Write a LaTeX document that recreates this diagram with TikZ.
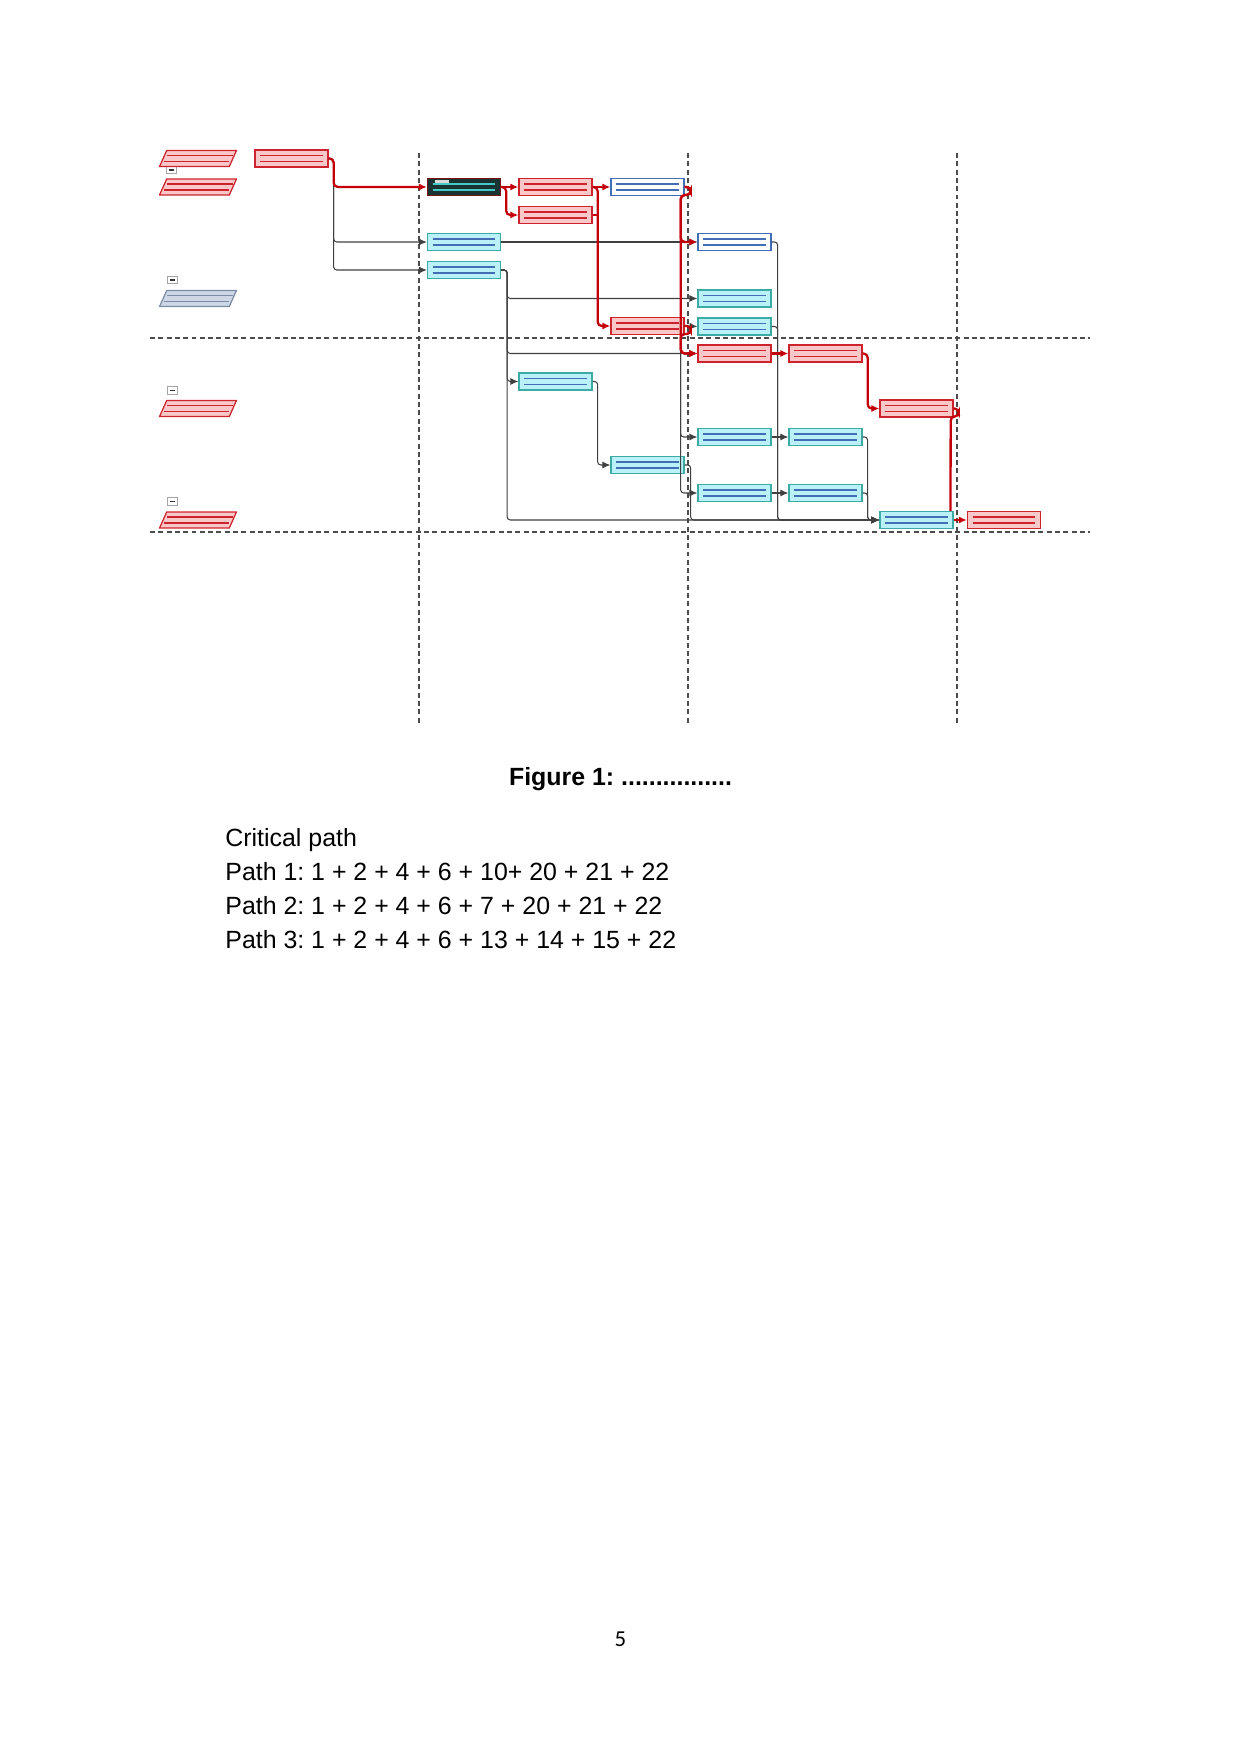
\documentclass[tikz,border=0pt]{standalone}
\usepackage{fontspec}
\setmainfont{Liberation Sans}
\newfontfamily\pagenofont{Carlito}
\usepackage{xcolor}
\usetikzlibrary{arrows.meta}
\frenchspacing

\definecolor{critfill}{RGB}{250,200,200}
\definecolor{critline}{RGB}{205,35,45}
\definecolor{critpath}{RGB}{195,0,10}
\definecolor{cyanfill}{RGB}{186,240,248}
\definecolor{cyanline}{RGB}{60,170,165}
\definecolor{ruleblue}{RGB}{65,110,180}
\definecolor{darkfill}{RGB}{25,50,50}
\definecolor{darkedge}{RGB}{120,20,20}
\definecolor{darkrule}{RGB}{70,200,200}
\definecolor{grpfill}{RGB}{205,215,230}
\definecolor{grpline}{RGB}{125,140,165}

\tikzset{
    >={Latex[length=3.8pt, width=3.4pt]}, % small filled arrow heads
    taskbox/.style 2 args={rectangle, draw=#1, fill=#2, line width=0.6pt,
        minimum width=35.2pt, minimum height=8.2pt, inner sep=0pt},
    rules/.style={path picture={
        \draw[#1, line width=0.7pt]
            ([xshift=2.5pt, yshift=-2.7pt]path picture bounding box.north west) --
            ([xshift=-2.5pt, yshift=-2.7pt]path picture bounding box.north east)
            ([xshift=2.5pt, yshift=2.7pt]path picture bounding box.south west) --
            ([xshift=-2.5pt, yshift=2.7pt]path picture bounding box.south east);
    }},
    crit/.style={taskbox={critline}{critfill}, rules=critline},
    norm/.style={taskbox={cyanline}{cyanfill}, rules=ruleblue},
    mile/.style={taskbox={ruleblue}{white}, rules=ruleblue},
    current/.style={taskbox={darkedge}{darkfill}, path picture={
        \fill[white!85!black] ([xshift=3.5pt, yshift=-0.8pt]path picture bounding box.north west) rectangle ++(7pt,-1.2pt);
        \draw[darkrule, line width=0.7pt]
            ([xshift=2.5pt, yshift=-2.7pt]path picture bounding box.north west) --
            ([xshift=-2.5pt, yshift=-2.7pt]path picture bounding box.north east)
            ([xshift=2.5pt, yshift=2.7pt]path picture bounding box.south west) --
            ([xshift=-2.5pt, yshift=2.7pt]path picture bounding box.south east);
    }},
    group/.style 2 args={rectangle, minimum width=37.6pt, minimum height=8.2pt, inner sep=0pt,
        path picture={
        \path[draw=#1, fill=#2, line width=0.6pt]
            ([xshift=0.3pt, yshift=0.3pt]path picture bounding box.south west) --
            ([xshift=-3.7pt, yshift=0.3pt]path picture bounding box.south east) --
            ([xshift=-0.3pt, yshift=-0.3pt]path picture bounding box.north east) --
            ([xshift=3.7pt, yshift=-0.3pt]path picture bounding box.north west) -- cycle;
        \draw[#1, line width=0.7pt]
            ([xshift=4pt, yshift=-2.7pt]path picture bounding box.north west) --
            ([xshift=-2pt, yshift=-2.7pt]path picture bounding box.north east)
            ([xshift=2.5pt, yshift=2.7pt]path picture bounding box.south west) --
            ([xshift=-4pt, yshift=2.7pt]path picture bounding box.south east);
    }},
    fold/.style={rectangle, draw=black!35, fill=white, line width=0.3pt,
        minimum width=4.6pt, minimum height=3.6pt, inner sep=0pt,
        path picture={\draw[black!80, line width=0.7pt]
            ([xshift=1pt]path picture bounding box.west) -- ([xshift=-1pt]path picture bounding box.east);}},
    link/.style={draw=black!75, line width=0.5pt, rounded corners=1.5pt},
    critlink/.style={draw=critpath, line width=1.1pt, rounded corners=2pt},
    elbow/.style={to path={-- ++(#1,0) |- (\tikztotarget) \tikztonodes}},
    hook/.style={to path={-- ++(6,0) -- ++(0,8) -- ++(-10,0) |- (\tikztotarget) \tikztonodes}},
    divider/.style={draw=black!70, line width=0.6pt, dash pattern=on 2.4pt off 1.6pt},
    body/.style={font=\fontsize{12}{14}\selectfont, inner sep=0pt, anchor=base west},
}

\begin{document}
\begin{tikzpicture}[x=0.4818pt, y=-0.4818pt]
    \useasboundingbox (0,0) rectangle (1241,1754);

    % Dividers
    \draw[divider] (150,338) -- (1090,338);
    \draw[divider] (150,532) -- (1090,532);
    \foreach \xd in {419,688,957}
        \draw[divider] (\xd,153) -- (\xd,725);

    % Groups
    \node[fold] (fA) at (171.5,170) {};
    \node[group={critline}{critfill}] (gA) at (198,158.5) {};
    \node[group={critline}{critfill}] (gB) at (198,187) {};
    \node[fold] (fB) at (172.5,280) {};
    \node[group={grpline}{grpfill}] (gC) at (198,298.5) {};
    \node[fold] (fC) at (172.5,390.5) {};
    \node[group={critline}{critfill}] (gD) at (198,408.5) {};
    \node[fold] (fD) at (172.5,501.5) {};
    \node[group={critline}{critfill}] (gE) at (198,520) {};

    % Tasks
    \node[crit] (t1) at (291.5,158.5) {};
    \node[current] (t2) at (464,187) {};
    \node[norm] (t3) at (464,242) {};
    \node[norm] (t4) at (464,270) {};
    \node[crit] (t5) at (555.5,187) {};
    \node[crit] (t6) at (555.5,215) {};
    \node[norm] (t9) at (555.5,381.5) {};
    \node[mile] (t7) at (647.5,187) {};
    \node[crit] (t8) at (647.5,326) {};
    \node[norm] (t10) at (647.5,465) {};
    \node[mile] (t11) at (734.5,242) {};
    \node[norm] (t12) at (734.5,298.5) {};
    \node[norm] (t13) at (734.5,326.5) {};
    \node[crit] (t14) at (734.5,353.5) {};
    \node[norm] (t16) at (734.5,437) {};
    \node[norm] (t17) at (734.5,493) {};
    \node[crit] (t15) at (825.5,353.5) {};
    \node[norm] (t18) at (825.5,437) {};
    \node[norm] (t19) at (825.5,493) {};
    \node[crit] (t20) at (916.5,408.5) {};
    \node[norm] (t21) at (916.5,520) {};
    \node[crit] (t22) at (1004,520) {};

    % Links
    \path[->]
        (t1.east) edge[link, elbow=5] (t3.west)
                  edge[link, elbow=5] (t4.west)
        (t3.east) edge[link] (t11.west)
        (t4.east) edge[link, elbow=6] (t12.west)
                  edge[link, elbow=6] (t14.west)
                  edge[link, elbow=6] (t9.west)
                  edge[link, elbow=6] (t21.west)
        (t8.east) edge[link] (t13.west)
                  edge[link, hook] (t16.west)
                  edge[link, hook] (t17.west)
        (t9.east) edge[link, elbow=5] (t10.west)
        (t10.east) edge[link, elbow=6] (t21.west)
        (t11.east) edge[link, elbow=6] (t21.west)
        (t13.east) edge[link, elbow=6] (t21.west)
        (t16.east) edge[link] (t18.west)
        (t17.east) edge[link] (t19.west)
        (t18.east) edge[link, elbow=5] (t21.west)
        (t19.east) edge[link, elbow=5] (t21.west);

    % Critical links
    \path[->]
        (t1.east) edge[critlink, elbow=5] (t2.west)
        (t2.east) edge[critlink] (t5.west)
                  edge[critlink, elbow=5] (t6.west)
        (t5.east) edge[critlink] (t7.west)
                  edge[critlink, elbow=5] (t8.west)
        (t7.east) edge[critlink, hook] (t11.west)
                  edge[critlink, hook] (t14.west)
        (t8.east) edge[critlink, hook] (t14.west)
        (t14.east) edge[critlink] (t15.west)
        (t15.east) edge[critlink, elbow=5] (t20.west)
        (t21.east) edge[critlink] (t22.west);
    \draw[critlink] (t6.east) -- ++(5,0);
    \draw[critlink] (t20.east) -- ++(5,0) -- ++(0,8) -- ++(-8,0) -- ([xshift=-1.5pt]t21.north east);

    % Text
    \node[font=\fontsize{12}{14}\selectfont\bfseries, inner sep=0pt, anchor=base] (cap) at (620.5,785) {Figure 1: ................};
    \node[body] (crit) at (225,846) {Critical path};
    \node[body] (p1) at (225,880) {Path 1: 1 + 2 + 4 + 6 + 10+ 20 + 21 + 22};
    \node[body] (p2) at (225,914) {Path 2: 1 + 2 + 4 + 6 + 7 + 20 + 21 + 22};
    \node[body] (p3) at (225,948) {Path 3: 1 + 2 + 4 + 6 + 13 + 14 + 15 + 22};
    \node[font=\pagenofont\fontsize{11}{13}\selectfont, inner sep=0pt, anchor=base] (pg) at (620.5,1646) {5};
\end{tikzpicture}
\end{document}
